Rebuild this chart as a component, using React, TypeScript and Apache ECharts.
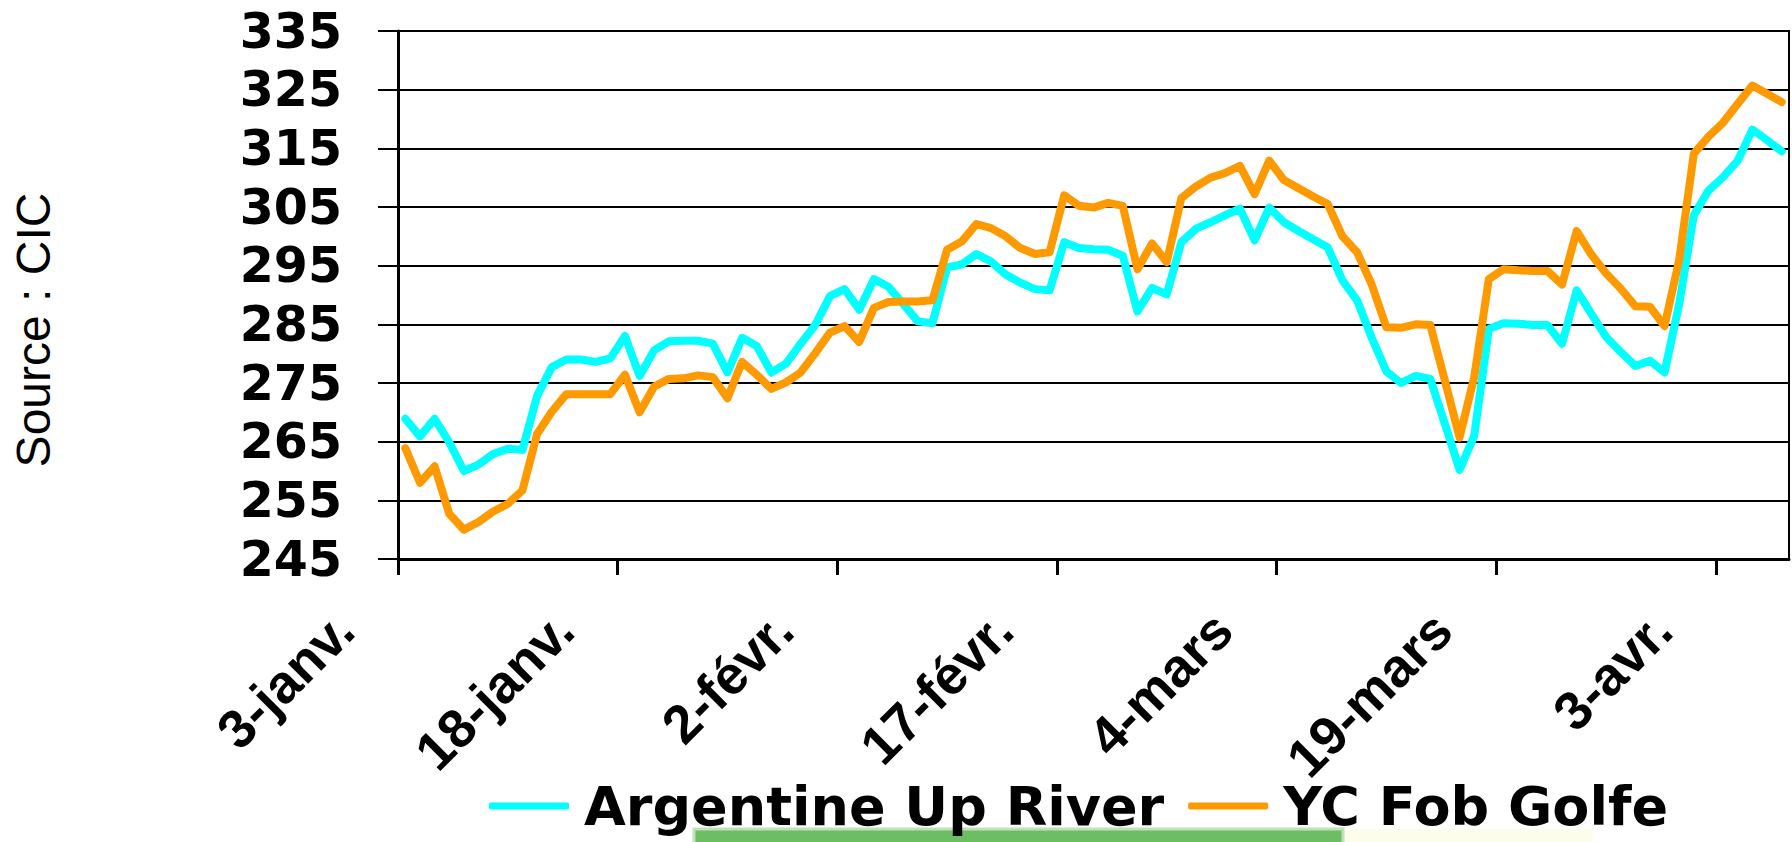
import React, { useEffect, useRef } from 'react';
import * as echarts from 'echarts';

// Tick labels of the date axis (one every 15 days, day 0 = 3-janv.)
const tickLabels = ['3-janv.', '18-janv.', '2-févr.', '17-févr.', '4-mars', '19-mars', '3-avr.'];
const tickDays = [0, 15, 30, 45, 60, 75, 90];
const totalDays = 95;
const yTicks = [245, 255, 265, 275, 285, 295, 305, 315, 325, 335];

const seriesNames = ['Argentine Up River', 'YC Fob Golfe'];
const seriesColors = ['#00FFFF', '#FF9900'];

// Daily values, 3-janv. .. 7-avr.
const argentineUpRiver = [
  268.9, 265.9, 268.9, 264.9, 260.0, 261.1, 262.9, 263.8, 263.6, 272.8,
  277.7, 279.0, 279.0, 278.6, 279.2, 283.0, 276.2, 280.6, 282.1, 282.2,
  282.2, 281.7, 276.8, 282.7, 281.3, 276.8, 278.3, 281.7, 284.9, 289.8,
  291.0, 287.5, 292.7, 291.4, 288.5, 285.5, 285.2, 294.7, 295.2, 297.0,
  295.7, 293.5, 292.1, 291.0, 290.8, 299.0, 298.0, 297.8, 297.7, 296.7,
  287.2, 291.2, 290.1, 299.0, 301.3, 302.4, 303.6, 304.7, 299.3, 304.9,
  302.4, 300.9, 299.5, 298.1, 292.5, 289.1, 282.7, 277.0, 275.0, 276.2,
  275.7, 268.0, 260.2, 266.0, 284.2, 285.2, 285.1, 284.9, 284.9, 281.7,
  290.8, 286.8, 282.9, 280.3, 277.9, 278.8, 276.8, 288.5, 303.6, 307.8,
  310.1, 312.9, 318.2, 316.4, 314.5,
];

const ycFobGolfe = [
  263.9, 258.0, 260.8, 252.7, 250.0, 251.3, 253.1, 254.4, 256.7, 266.3,
  270.1, 273.1, 273.1, 273.1, 273.1, 276.4, 270.0, 274.4, 275.7, 275.8,
  276.3, 276.0, 272.4, 278.6, 276.4, 274.0, 275.1, 276.8, 280.1, 283.6,
  284.7, 282.0, 287.8, 288.8, 288.9, 288.9, 289.1, 297.7, 299.1, 302.1,
  301.4, 300.0, 298.0, 297.0, 297.3, 307.0, 305.2, 304.9, 305.7, 305.2,
  294.4, 298.8, 295.6, 306.5, 308.5, 310.0, 310.8, 312.0, 307.2, 312.9,
  309.6, 308.2, 306.8, 305.5, 300.0, 297.3, 291.8, 284.5, 284.4, 285.0,
  284.9, 275.4, 265.7, 276.0, 292.7, 294.4, 294.2, 294.1, 294.1, 291.8,
  300.9, 296.9, 293.7, 291.1, 288.1, 288.0, 284.7, 296.0, 314.1, 317.0,
  319.4, 322.6, 325.7, 324.3, 322.9,
];

const seriesValues = [argentineUpRiver, ycFobGolfe];

export default function App() {
  const ref = useRef<HTMLDivElement>(null);

  useEffect(() => {
    document.body.style.margin = '0';
    const chart = echarts.init(ref.current as HTMLDivElement, null, { renderer: 'svg' });

    // each day occupies one unit band; the point sits in the middle of its band
    const toPoints = (arr: number[]) => arr.map((v, i) => [i + 0.5, v]);

    chart.setOption({
      animation: false,
      backgroundColor: '#ffffff',
      grid: {
        left: 398,
        top: 31,
        right: 3,
        bottom: 283,
        show: true,
        borderColor: '#000',
        borderWidth: 2,
        backgroundColor: 'transparent',
      },
      xAxis: {
        type: 'value',
        min: 0,
        max: totalDays,
        axisLine: { show: true, onZero: false, lineStyle: { color: '#000', width: 3 } },
        axisTick: {
          show: true,
          length: 16,
          customValues: tickDays,
          lineStyle: { color: '#000', width: 3 },
        },
        axisLabel: {
          customValues: tickDays,
          rotate: 45,
          margin: 8,
          formatter: (v: number) => {
            const idx = tickDays.indexOf(Math.round(v));
            return idx >= 0 ? tickLabels[idx] : '';
          },
          fontFamily: '"Liberation Sans", Arial, sans-serif',
          fontWeight: 'bold',
          fontSize: 54,
          color: '#000',
          padding: [12, 76, 0, 0],
        },
        splitLine: { show: false },
      },
      yAxis: {
        type: 'value',
        min: 245,
        max: 335,
        axisLine: { show: true, lineStyle: { color: '#000', width: 3 } },
        axisTick: {
          show: true,
          length: 20,
          customValues: yTicks,
          lineStyle: { color: '#000', width: 2 },
        },
        axisLabel: {
          customValues: yTicks,
          margin: 56,
          fontFamily: '"DejaVu Sans", sans-serif',
          fontWeight: 'bold',
          fontSize: 49,
          color: '#000',
        },
        splitLine: { show: true, lineStyle: { color: '#000', width: 2 } },
      },
      legend: {
        left: 489,
        top: 779,
        padding: 0,
        itemGap: 24,
        itemWidth: 80,
        itemHeight: 7,
        icon: 'roundRect',
        textStyle: {
          fontFamily: '"DejaVu Sans", sans-serif',
          fontWeight: 'bold',
          fontSize: 54,
          lineHeight: 54,
          color: '#000',
          padding: [0, 0, 0, 10],
        },
        data: seriesNames,
      },
      graphic: [
        {
          type: 'rect',
          z: 0,
          shape: { x: 1343, y: 829, width: 250, height: 16 },
          style: { fill: '#fdfdec' },
        },
        {
          type: 'rect',
          z: 0,
          shape: { x: 694, y: 829, width: 649, height: 16 },
          style: { fill: '#6dbd62', stroke: '#bfe0b8', lineWidth: 3 },
        },
        {
          type: 'text',
          x: 33,
          y: 330,
          rotation: Math.PI / 2,
          style: {
            text: 'Source : CIC',
            font: '48px "Liberation Sans", Arial, sans-serif',
            fill: '#000',
            align: 'center',
            verticalAlign: 'middle',
          },
        },
      ],
      series: seriesNames.map((name, k) => ({
        name,
        type: 'line',
        data: toPoints(seriesValues[k]),
        symbol: 'none',
        showSymbol: false,
        color: seriesColors[k],
        lineStyle: { color: seriesColors[k], width: 8, cap: 'round', join: 'round' },
        z: 3 + k,
      })),
    });

    return () => chart.dispose();
  }, []);

  return <div ref={ref} style={{ width: 1792, height: 842 }} />;
}
